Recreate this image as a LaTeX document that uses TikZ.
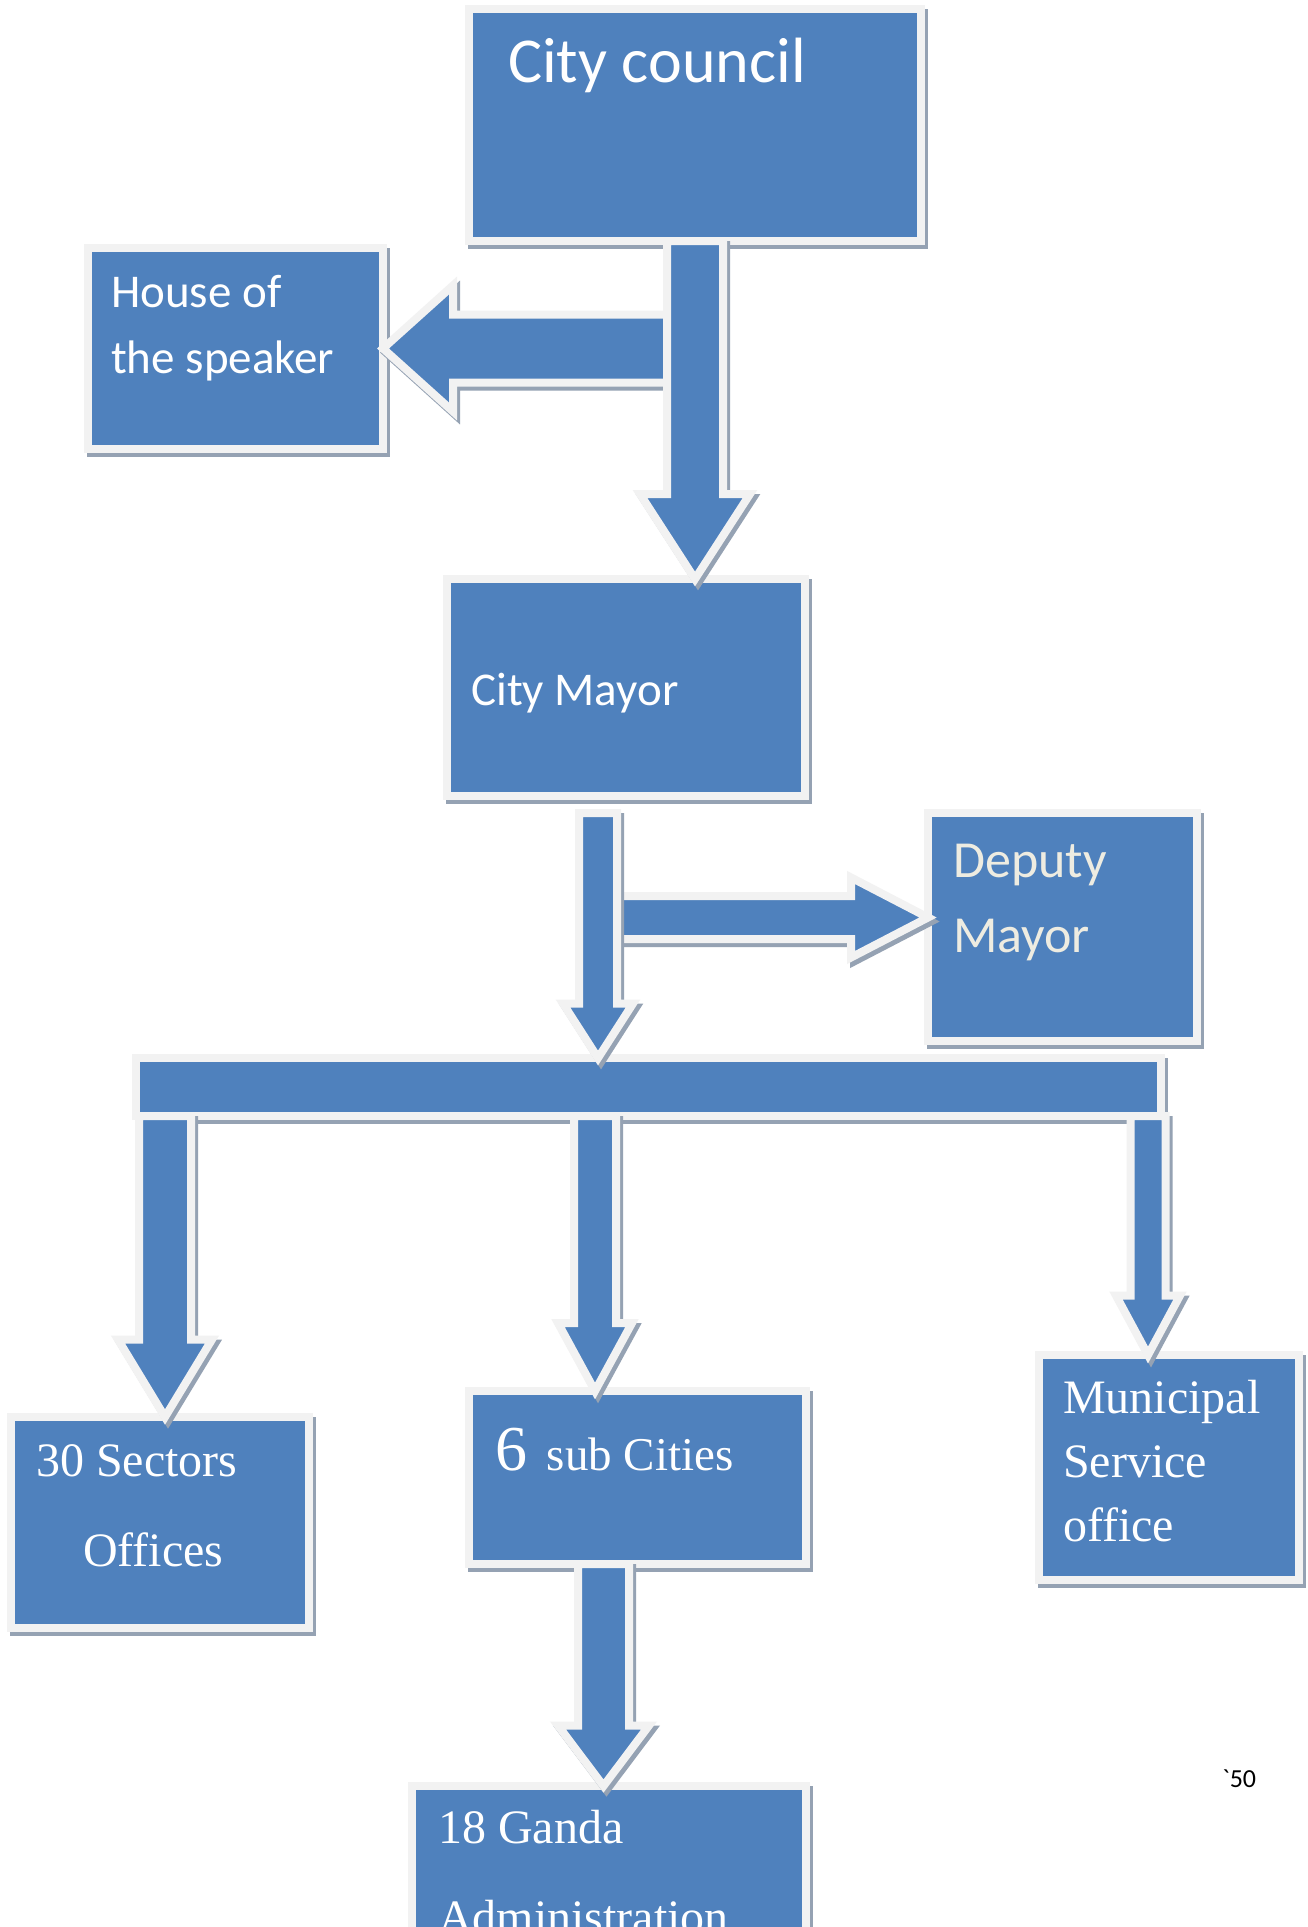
\documentclass[tikz,border=0pt]{standalone}
\usepackage{fontspec}
\usetikzlibrary{calc}
\newfontfamily\cfont{Carlito}
\newfontfamily\tfont{Liberation Serif}
\definecolor{boxblue}{HTML}{4F81BD}
\definecolor{framegray}{HTML}{F2F2F2}
\definecolor{shadowgray}{HTML}{95A2B3}
\definecolor{cream}{HTML}{EEECE1}

% block arrow: start, tip, half shaft width, half head width, head length
\newcommand{\blockarrow}[5]{%
  \coordinate (ba) at (#1);
  \coordinate (bt) at (#2);
  \coordinate (bh) at ($(bt)!#5!(ba)$);
  \draw[arrowbody] ($(ba)!#3!90:(bt)$) -- ($(bh)!#3!90:(bt)$) -- ($(bh)!#4!90:(bt)$) -- (bt)
    -- ($(bh)!#4!-90:(bt)$) -- ($(bh)!#3!-90:(bt)$) -- ($(ba)!#3!-90:(bt)$) -- cycle;
}

\begin{document}
\begin{tikzpicture}[x=1pt, y=-1pt,
        shadowed/.style={preaction={fill=shadowgray, draw=shadowgray, line width=8pt,
            transform canvas={xshift=3pt, yshift=-4pt}}},
        orgbox/.style={rectangle, shadowed, fill=boxblue, draw=framegray, line width=8pt,
            inner sep=0pt, outer sep=0pt},
        arrowbody/.style={shadowed, fill=boxblue, draw=framegray, line width=8pt},
        boxtext/.style={anchor=base west, inner sep=0pt, align=left, text=white}
    ]
        \useasboundingbox (0,0) rectangle (1308,1927);
        \clip (0,0) rectangle (1308,1927);
        \fill[white] (0,0) rectangle (1308,1927);

        % Boxes
        \node[orgbox, minimum width=452pt, minimum height=232pt] (council) at (695,125) {};
        \node[orgbox, minimum width=295pt, minimum height=201pt] (speaker) at (235.5,348.5) {};
        \node[orgbox, minimum width=358pt, minimum height=217pt] (mayor) at (626,687.5) {};
        \node[orgbox, minimum width=269pt, minimum height=228pt] (deputy) at (1062.5,927) {};
        \node[orgbox, minimum width=1025pt, minimum height=58pt] (bar) at (648.5,1087) {};
        \node[orgbox, minimum width=298pt, minimum height=211pt] (sectors) at (160,1522.5) {};
        \node[orgbox, minimum width=337pt, minimum height=173pt] (subcities) at (637.5,1477.5) {};
        \node[orgbox, minimum width=260pt, minimum height=225pt] (municipal) at (1169,1467.5) {};
        \node[orgbox, minimum width=394pt, minimum height=264pt] (ganda) at (609,1918) {};

        % Texts (base = last line)
        \node[boxtext, font=\cfont\fontsize{64}{77}\selectfont] (councilT) at (508,82) {City council};
        \node[boxtext, font=\cfont\fontsize{47}{66}\selectfont] (speakerT) at (111,373) {House of\\the speaker};
        \node[boxtext, font=\cfont\fontsize{47}{56}\selectfont] (mayorT) at (471,705) {City Mayor};
        \node[boxtext, text=cream, font=\cfont\fontsize{52}{75}\selectfont] (deputyT) at (953,952) {Deputy\\Mayor};
        \node[boxtext, font=\tfont\fontsize{48}{90}\selectfont] (sectorsT) at (36,1566) {30 Sectors\\\hspace*{47pt}Offices};
        \node[boxtext, font=\tfont\fontsize{47}{56}\selectfont] (subT) at (495,1470) {{\fontsize{64}{64}\selectfont 6}\hspace{8pt} sub Cities};
        \node[boxtext, font=\tfont\fontsize{48}{64}\selectfont] (municipalT) at (1063,1541) {Municipal\\Service\\office};
        \node[boxtext, font=\tfont\fontsize{48}{90}\selectfont] (gandaT) at (438,1933) {18 Ganda\\Administration};
        \node[anchor=base west, inner sep=0pt, font=\cfont\fontsize{26}{30}\selectfont] (pageno) at (1222,1787) {\textasciigrave 50};

        % Arrow ends
        \coordinate (a3) at ([shift={(-28pt,-17pt)}]mayor.south);
        \coordinate (d4) at ([yshift=9.5pt]deputy.west);
        \coordinate (c5) at (165,0);
        \coordinate (c6) at (595,0);
        \coordinate (c7) at (1148,0);
        \coordinate (c8) at (603.5,0);

        % Arrows
        \blockarrow{council.south |- speaker.east}{speaker.east}{34pt}{63pt}{70pt}
        \blockarrow{council.south}{council.south |- mayor.north}{28pt}{55pt}{85pt}
        \blockarrow{a3 |- d4}{d4}{21.5pt}{40pt}{77pt}
        \blockarrow{a3}{a3 |- bar.north}{19pt}{35pt}{54.5pt}
        \blockarrow{c5 |- bar.south}{c5 |- sectors.north}{26pt}{47pt}{77.5pt}
        \blockarrow{c6 |- bar.south}{c6 |- subcities.north}{21pt}{37pt}{68pt}
        \blockarrow{c7 |- bar.south}{c7 |- municipal.north}{17.5pt}{32pt}{59.5pt}
        \blockarrow{c8 |- subcities.south}{c8 |- ganda.north}{25.5pt}{45.5pt}{60.5pt}
    \end{tikzpicture}
\end{document}
